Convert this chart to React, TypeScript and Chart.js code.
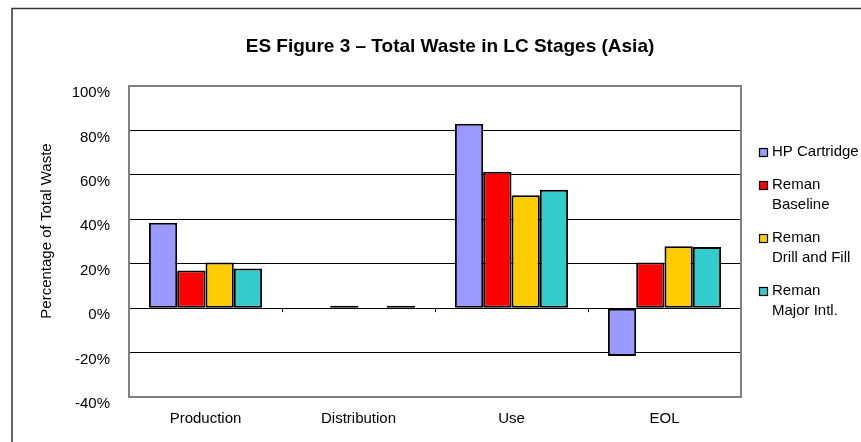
import { useEffect, useRef } from "react";
import { Chart, registerables } from "chart.js";

Chart.register(...registerables);

const titleText = "ES Figure 3 \u2013 Total Waste in LC Stages (Asia)";
const yAxisTitle = "Percentage of Total Waste";
const categories = ["Production", "Distribution", "Use", "EOL"];
const hpCartridge = [38.4, 0, 83, -21.5];
const remanBaseline = [17, 1.1, 61.4, 20.5];
const remanDrillFill = [20.6, 0, 50.8, 27.9];
const remanMajorIntl = [17.9, 1.1, 53.3, 27.5];
const seriesLabels = [["HP Cartridge"], ["Reman", "Baseline"], ["Reman", "Drill and Fill"], ["Reman", "Major Intl."]];
const seriesColors = ["#9999FF", "#FF0000", "#FFCC00", "#33CCCC"];
const yMin = -40;
const yMax = 100;
const yStep = 20;

const FONT = "'Liberation Sans', Arial, sans-serif";

const overlay = {
  id: "overlay",
  beforeDraw(chart: any) {
    const { ctx, width, height } = chart;
    ctx.save();
    ctx.fillStyle = "#ffffff";
    ctx.fillRect(0, 0, width, height);
    ctx.restore();
  },
  afterDraw(chart: any) {
    const { ctx, chartArea: a, scales, width, height } = chart;
    ctx.save();
    // outer frame (left and top)
    ctx.strokeStyle = "#333333";
    ctx.lineWidth = 1.5;
    ctx.beginPath();
    ctx.moveTo(12, height);
    ctx.lineTo(12, 8.5);
    ctx.lineTo(width, 8.5);
    ctx.stroke();

    // title
    ctx.fillStyle = "#000";
    ctx.font = `bold 19px ${FONT}`;
    ctx.textAlign = "center";
    ctx.textBaseline = "middle";
    ctx.fillText(titleText, 450, 47);

    // y axis title
    ctx.save();
    ctx.translate(47, 231);
    ctx.rotate(-Math.PI / 2);
    ctx.font = `15px ${FONT}`;
    ctx.fillText(yAxisTitle, 0, 0);
    ctx.restore();

    // plot border
    ctx.strokeStyle = "#808080";
    ctx.lineWidth = 2;
    ctx.strokeRect(a.left, a.top, a.right - a.left, a.bottom - a.top);

    // category tick marks on the zero line
    const y0 = scales.y.getPixelForValue(0);
    ctx.strokeStyle = "#000";
    ctx.lineWidth = 1;
    for (let i = 1; i < categories.length; i++) {
      const x = Math.round(scales.x.getPixelForValue(i - 0.5)) + 0.5;
      ctx.beginPath();
      ctx.moveTo(x, y0);
      ctx.lineTo(x, y0 + 4);
      ctx.stroke();
    }

    // legend
    const lx = 759;
    const tx = 772;
    const lineH = 20;
    const gap = 13;
    let y = 152;
    ctx.font = `15px ${FONT}`;
    ctx.textAlign = "left";
    ctx.textBaseline = "middle";
    chart.data.datasets.forEach((ds: any, i: number) => {
      const lines = seriesLabels[i];
      ctx.fillStyle = ds.backgroundColor;
      ctx.fillRect(lx, y - 4, 8, 8);
      ctx.strokeStyle = "#000";
      ctx.lineWidth = 1.2;
      ctx.strokeRect(lx + 0.5, y - 3.5, 8, 8);
      ctx.fillStyle = "#000";
      lines.forEach((t, j) => ctx.fillText(t, tx, y + j * lineH));
      y += lines.length * lineH + gap;
    });
    ctx.restore();
  },
};

export default function App() {
  const ref = useRef<HTMLCanvasElement>(null);
  useEffect(() => {
    const series = [hpCartridge, remanBaseline, remanDrillFill, remanMajorIntl];
    const chart = new Chart(ref.current!, {
      type: "bar",
      data: {
        labels: categories,
        datasets: series.map((d, i) => ({
          label: seriesLabels[i].join(" "),
          data: d,
          backgroundColor: seriesColors[i],
          borderColor: "#000000",
          borderWidth: 2,
          borderSkipped: false,
          categoryPercentage: 0.74,
          barPercentage: 1,
        })),
      },
      options: {
        responsive: false,
        animation: false,
        layout: { padding: { left: 0, top: 86, right: 120, bottom: 0 } },
        plugins: {
          legend: { display: false },
          title: { display: false },
          tooltip: { enabled: false },
        },
        scales: {
          x: {
            grid: { display: false, drawTicks: false },
            border: { display: false },
            ticks: { color: "#000", font: { family: FONT, size: 15 }, padding: 13, maxRotation: 0 },
            afterFit: (s: any) => { s.height = 45; },
          },
          y: {
            min: yMin,
            max: yMax,
            ticks: {
              stepSize: yStep,
              color: "#000",
              font: { family: FONT, size: 15 },
              padding: 19,
              labelOffset: 7,
              callback: (v: any) => `${v}%`,
            },
            grid: {
              drawTicks: false,
              color: (c: any) => (c.tick && (c.tick.value === yMin || c.tick.value === yMax) ? "rgba(0,0,0,0)" : "#000"),
              lineWidth: 1,
            },
            border: { display: false },
            afterFit: (s: any) => { s.width = 129; },
          },
        },
      },
      plugins: [overlay],
    });
    return () => chart.destroy();
  }, []);
  return (
    <div style={{ position: "absolute", left: 0, top: 0, width: 861, height: 442, background: "#fff" }}>
      <canvas ref={ref} width={861} height={442} style={{ display: "block", width: 861, height: 442 }} />
    </div>
  );
}
